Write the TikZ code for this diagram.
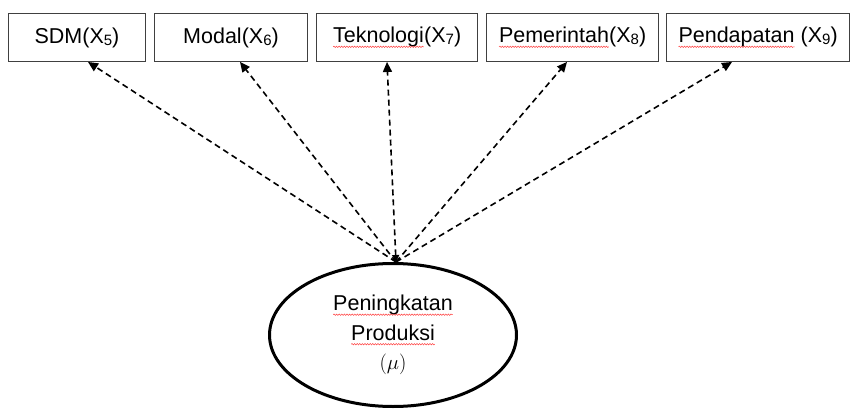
\documentclass[tikz,border=0pt]{standalone}
\usepackage{fontspec}
\setmainfont{Liberation Sans}
\usetikzlibrary{arrows.meta,shapes.geometric,decorations.pathmorphing}
\newcommand\lowsub[1]{\raisebox{-2pt}{\fontsize{15}{15}\selectfont #1}}
\tikzset{plainword/.style={shape=rectangle,inner sep=0pt,outer sep=0pt,draw=none,
    minimum width=0pt,minimum height=0pt,font={},align=none,line width=0.4pt}}
\newcommand\spell[1]{\tikz[baseline=(spw.base)]{\node[plainword] (spw) {#1};
  \draw[red!75!white,line width=0.5pt,decorate,decoration={snake,amplitude=0.7pt,segment length=2.6pt}]
  ([yshift=-4pt]spw.base west) -- ([yshift=-4pt]spw.base east);}}
\tikzset{
  varbox/.style={draw=black!75,line width=0.9pt,minimum height=48pt,inner sep=0pt,
    font=\fontsize{21.5}{25}\selectfont},
  latent/.style={ellipse,draw=black,line width=3pt,minimum width=247pt,minimum height=143pt,
    inner sep=0pt,align=center,font=\fontsize{21.5}{29.5}\selectfont},
  link/.style={line width=1.6pt,dash pattern=on 6pt off 4pt,-{Triangle[length=10pt,width=9pt]}}
}
\begin{document}
\begin{tikzpicture}[x=1pt,y=-1pt]
\useasboundingbox (0,0) rectangle (851,409);
\node[varbox,minimum width=137pt] (b1) at (77,37.5) {SDM(X\lowsub{5})};
\node[varbox,minimum width=153pt] (b2) at (231,37.5) {Modal(X\lowsub{6})};
\node[varbox,minimum width=161pt] (b3) at (397,37.5) {\spell{Teknologi}(X\lowsub{7})};
\node[varbox,minimum width=172pt] (b4) at (572.5,37.5) {\spell{Pemerintah}(X\lowsub{8})};
\node[varbox,minimum width=183pt] (b5) at (758,37.5) {\spell{Pendapatan} (X\lowsub{9})};
\node[latent] (e) at (393,335) {\spell{Peningkatan}\\\spell{Produksi}\\$(\mu)$};
\coordinate (c) at ([xshift=3pt]e.north);
\draw[link] (c) -- ([xshift=11pt]b1.south);
\draw[link] (c) -- ([xshift=9pt]b2.south);
\draw[link,{Triangle[length=7pt,width=7pt]}-{Triangle[length=10pt,width=9pt]}] (c) -- ([xshift=-10pt]b3.south);
\draw[link] (c) -- ([xshift=-5.5pt]b4.south);
\draw[link] (c) -- ([xshift=-26pt]b5.south);
\end{tikzpicture}
\end{document}
